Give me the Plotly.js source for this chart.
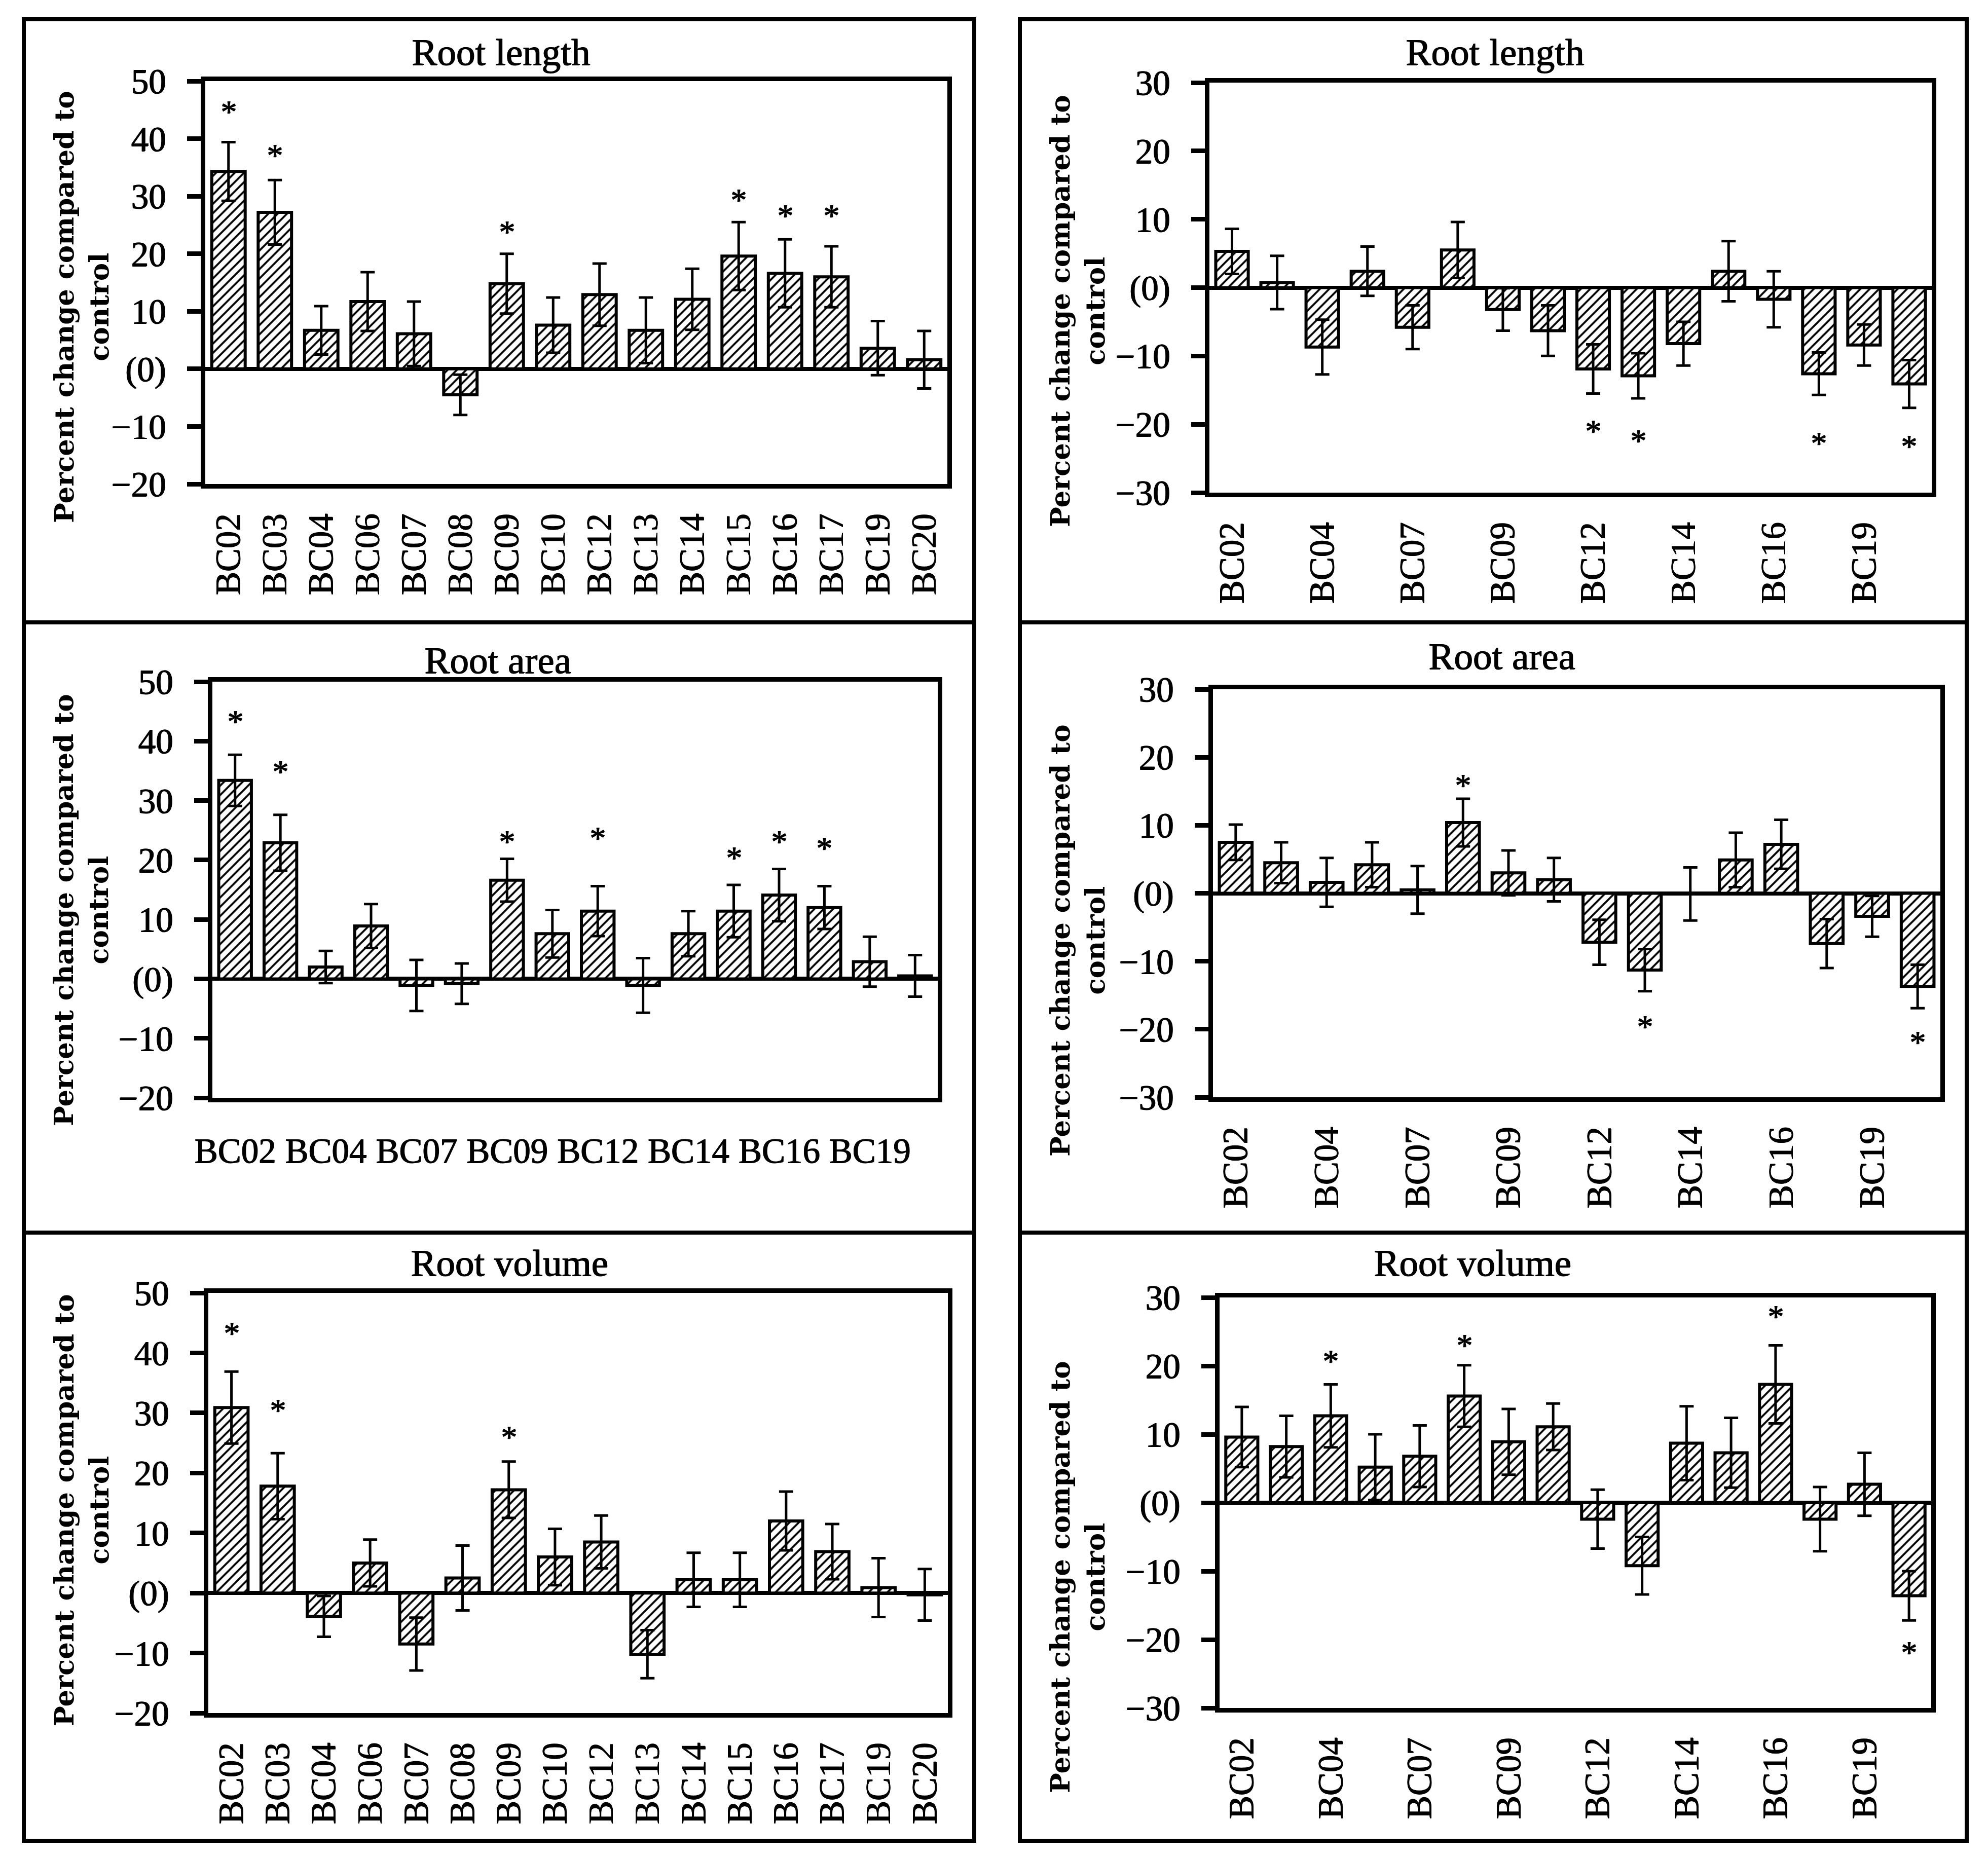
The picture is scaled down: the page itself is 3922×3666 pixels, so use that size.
<!DOCTYPE html>
<html>
<head>
<meta charset="utf-8">
<script src="https://cdn.plot.ly/plotly-3.0.1.min.js"></script>
<style>
html,body{margin:0;padding:0;background:#fff;}
#chart{width:3922px;height:3666px;}
</style>
</head>
<body>
<div id="chart"></div>
<script>
// ---------------- DATA ----------------
const categories = ["BC02","BC03","BC04","BC06","BC07","BC08","BC09","BC10","BC12","BC13","BC14","BC15","BC16","BC17","BC19","BC20"];
const altTickLabels = ["BC02","BC04","BC07","BC09","BC12","BC14","BC16","BC19"];
const leftTickVals = [-20,-10,0,10,20,30,40,50];
const leftTickText = ["\u221220","\u221210","(0)","10","20","30","40","50"];
const rightTickVals = [-30,-20,-10,0,10,20,30];
const rightTickText = ["\u221230","\u221220","\u221210","(0)","10","20","30"];
const panelTitles = ["Root length","Root length","Root area","Root area","Root volume","Root volume"];
const yAxisTitle = "Percent change compared to<br>control";

// Root length (left panel)
const lengthA     = [34.3, 27.2, 6.7, 11.7, 6.1, -4.5, 14.8, 7.6, 12.9, 6.7, 12.1, 19.6, 16.6, 16.0, 3.6, 1.6];
const lengthAErr  = [5.1, 5.6, 4.2, 5.1, 5.6, 3.5, 5.2, 4.8, 5.4, 5.7, 5.3, 5.9, 5.9, 5.3, 4.7, 5.0];
const lengthAStar = [45.7, 38.2, null, null, null, null, 24.9, null, null, null, null, 30.4, 27.7, 27.7, null, null];
// Root length (right panel)
const lengthB     = [5.3, 0.75, -8.7, 2.4, -5.8, 5.5, -3.2, -6.3, -11.9, -12.9, -8.2, 2.4, -1.7, -12.6, -8.4, -14.1];
const lengthBErr  = [3.3, 3.9, 4.0, 3.6, 3.2, 4.1, 3.1, 3.7, 3.6, 3.3, 3.2, 4.4, 4.1, 3.1, 3.0, 3.5];
const lengthBStar = [null, null, null, null, null, null, null, null, -20.1, -21.5, null, null, null, -21.9, null, -22.3];
// Root area (left panel)
const areaA     = [33.4, 22.9, 2.0, 8.9, -1.1, -0.8, 16.6, 7.6, 11.4, -1.1, 7.6, 11.4, 14.1, 12.0, 2.9, 0.5];
const areaAErr  = [4.3, 4.7, 2.7, 3.7, 4.3, 3.4, 3.6, 4.0, 4.2, 4.6, 3.8, 4.4, 4.4, 3.6, 4.2, 3.5];
const areaAStar = [44.3, 35.9, null, null, null, null, 24.1, null, 24.7, null, null, 21.4, 24.1, 23.0, null, null];
// Root area (right panel)
const areaB     = [7.5, 4.5, 1.6, 4.2, 0.5, 10.4, 3.0, 2.0, -7.2, -11.3, -0.1, 4.9, 7.2, -7.4, -3.4, -13.7];
const areaBErr  = [2.6, 3.0, 3.6, 3.3, 3.5, 3.5, 3.3, 3.2, 3.3, 3.1, 3.9, 4.0, 3.6, 3.6, 3.0, 3.2];
const areaBStar = [null, null, null, null, null, 16.8, null, null, null, -18.7, null, null, null, null, null, -21.0];
// Root volume (left panel)
const volumeA     = [30.9, 17.8, -3.9, 5.0, -8.5, 2.5, 17.2, 6.0, 8.5, -10.2, 2.2, 2.2, 12.0, 6.9, 0.9, -0.3];
const volumeAErr  = [6.0, 5.5, 3.4, 3.9, 4.4, 5.4, 4.7, 4.7, 4.4, 4.0, 4.5, 4.5, 4.9, 4.6, 4.9, 4.3];
const volumeAStar = [44.3, 31.5, null, null, null, null, 27.0, null, null, null, null, null, null, null, null, null];
// Root volume (right panel)
const volumeB     = [9.6, 8.2, 12.7, 5.2, 6.8, 15.6, 8.9, 11.1, -2.4, -9.2, 8.7, 7.3, 17.3, -2.4, 2.7, -13.6];
const volumeBErr  = [4.4, 4.5, 4.6, 4.8, 4.5, 4.5, 4.8, 3.4, 4.3, 4.2, 5.4, 5.1, 5.7, 4.7, 4.6, 3.6];
const volumeBStar = [null, null, 21.6, null, null, 23.9, null, null, null, null, null, null, 28.1, null, null, -21.0];

// ---------------- LAYOUT HELPERS ----------------
const W = 3922, H = 3666;
const px = v => v / W;
const py = v => 1 - v / H;

const panels = [
  {vals: lengthA, errs: lengthAErr, stars: lengthAStar, side: 'left',  labels: 'all', angle: -90,
   box: [405, 1869, 160, 955], title: [988, 102], ytitle: [160, 606]},
  {vals: lengthB, errs: lengthBErr, stars: lengthBStar, side: 'right', labels: 'alt', angle: -90,
   box: [2386, 3811, 163, 972], title: [2949, 102], ytitle: [2125, 614]},
  {vals: areaA, errs: areaAErr, stars: areaAStar, side: 'left',  labels: 'alt', angle: 0,
   box: [419, 1850, 1345, 2166], title: [981, 1302], ytitle: [160, 1796]},
  {vals: areaB, errs: areaBErr, stars: areaBStar, side: 'right', labels: 'alt', angle: -90,
   box: [2393, 3828, 1360, 2165], title: [2962, 1294], ytitle: [2125, 1856]},
  {vals: volumeA, errs: volumeAErr, stars: volumeAStar, side: 'left',  labels: 'all', angle: -90,
   box: [411, 1870, 2551, 3380], title: [1005, 2491], ytitle: [160, 2980]},
  {vals: volumeB, errs: volumeBErr, stars: volumeBStar, side: 'right', labels: 'alt', angle: -90,
   box: [2406, 3810, 2560, 3370], title: [2905, 2491], ytitle: [2125, 3112]}
];

const thicken = '1.2px 0 0 #000, 0 0.8px 0 #000';
const tickFont = {family: 'Liberation Serif, Times New Roman, serif', size: 69, color: '#000', shadow: thicken};
const data = [];
const annotations = [];
const layout = {
  width: W, height: H,
  margin: {l: 0, r: 0, t: 0, b: 0, pad: 0},
  paper_bgcolor: '#fff', plot_bgcolor: '#fff',
  showlegend: false,
  bargap: 0.28,
  font: {family: 'Liberation Serif, serif', color: '#000'}
};

panels.forEach((p, idx) => {
  const n = idx + 1;
  const sfx = n === 1 ? '' : String(n);
  const xk = 'xaxis' + sfx, yk = 'yaxis' + sfx;
  const xr = 'x' + sfx, yr = 'y' + sfx;
  const [x0, x1, y0, y1] = p.box;

  data.push({
    type: 'bar', x: categories, y: p.vals, xaxis: xr, yaxis: yr,
    marker: {
      color: '#fff',
      line: {color: '#000', width: 6},
      pattern: {shape: '/', fgcolor: '#000', bgcolor: '#fff', size: 13, solidity: 0.3}
    },
    error_y: {type: 'data', array: p.errs, visible: true, color: '#000', thickness: 5, width: 14},
    hoverinfo: 'skip', showlegend: false
  });

  const tv = p.labels === 'all' ? categories : altTickLabels;
  layout[xk] = {
    domain: [px(x0), px(x1)], anchor: yr,
    type: 'category', categoryorder: 'array', categoryarray: categories,
    range: [-0.5, categories.length - 0.5],
    tickmode: 'array', tickvals: tv, ticktext: tv,
    tickangle: p.angle, tickfont: tickFont,
    ticks: '', showline: true, mirror: true, linecolor: '#000', linewidth: 9,
    showgrid: false, zeroline: false, fixedrange: true,
    ticklabelstandoff: p.angle === 0 ? 36 : 22
  };
  const left = p.side === 'left';
  layout[yk] = {
    domain: [py(y1), py(y0)], anchor: xr,
    range: left ? [-20, 50] : [-30, 30],
    tickmode: 'array',
    tickvals: left ? leftTickVals : rightTickVals,
    ticktext: left ? leftTickText : rightTickText,
    tickfont: tickFont,
    ticks: 'outside', ticklen: 27, tickwidth: 9, tickcolor: '#000',
    showline: true, mirror: true, linecolor: '#000', linewidth: 9,
    showgrid: false, zeroline: true, zerolinecolor: '#000', zerolinewidth: 8,
    fixedrange: true, ticklabelstandoff: 28
  };

  p.stars.forEach((s, k) => {
    if (s === null) return;
    annotations.push({
      xref: xr, yref: yr, x: categories[k], y: s, text: '*', showarrow: false,
      font: {family: 'Liberation Serif, serif', size: 64, color: '#000', shadow: thicken},
      xanchor: 'center', yanchor: 'middle', yshift: -12
    });
  });

  annotations.push({
    xref: 'paper', yref: 'paper', x: px(p.title[0]), y: py(p.title[1]),
    text: panelTitles[idx], showarrow: false, xanchor: 'center', yanchor: 'middle',
    font: {family: 'Liberation Serif, serif', size: 75, color: '#000', shadow: thicken}
  });
  annotations.push({
    xref: 'paper', yref: 'paper', x: px(p.ytitle[0]), y: py(p.ytitle[1]),
    text: yAxisTitle, showarrow: false, textangle: -90, xanchor: 'center', yanchor: 'middle',
    align: 'center',
    font: {family: 'DejaVu Serif, serif', size: 53, weight: 'bold', color: '#000'}
  });
});

// outer frames around each panel
const colX = [[47, 1922], [2012, 3880]];
const rowY = [[38, 1228], [1228, 2432], [2432, 3632]];
const shapes = [];
rowY.forEach(r => colX.forEach(c => {
  shapes.push({type: 'rect', xref: 'paper', yref: 'paper',
    x0: px(c[0]), x1: px(c[1]), y0: py(r[1]), y1: py(r[0]),
    line: {color: '#000', width: 8}, fillcolor: 'rgba(0,0,0,0)'});
}));
layout.shapes = shapes;
layout.annotations = annotations;

Plotly.newPlot('chart', data, layout, {staticPlot: true, displayModeBar: false});
</script>
</body>
</html>
